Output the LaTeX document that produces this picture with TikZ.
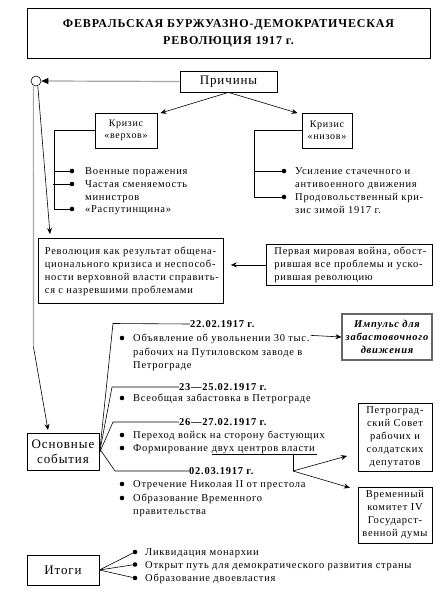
\documentclass[tikz,border=0pt]{standalone}
\usepackage{fontspec}
\setmainfont{Liberation Serif}[LetterSpace=7]
\usetikzlibrary{arrows.meta}
\newcommand{\fsb}{\fontsize{10.5}{13}\selectfont}
\newcommand{\fsl}{\fontsize{13}{15}\selectfont}
\begin{document}
\begin{tikzpicture}[x=1pt,y=-1pt,
  box/.style={draw,line width=0.8pt,inner sep=0pt,align=center},
  txt/.style={anchor=base west,inner sep=0pt,font=\fsb},
  dat/.style={anchor=west,inner sep=0pt,font=\fsb\bfseries},
  dot/.style={circle,fill,inner sep=0pt,minimum size=4.6pt},
  arr/.style={-{Stealth[length=6pt,width=5pt]}},
  ln/.style={line width=0.6pt},
  gln/.style={line width=1.2pt,gray!70},
]
\useasboundingbox (0,0) rectangle (444,594);

% title
\node[box,minimum width=403pt,minimum height=50pt,font=\fontsize{12}{17}\selectfont\bfseries] (title) at (228.5,33)
  {ФЕВРАЛЬСКАЯ БУРЖУАЗНО-ДЕМОКРАТИЧЕСКАЯ\\РЕВОЛЮЦИЯ 1917 г.};

% causes
\node[circle,draw,line width=0.6pt,minimum size=10pt,inner sep=0pt] (circ) at (36,81) {};
\node[box,minimum width=97pt,minimum height=21pt,font=\fsl] (prich) at (228.5,81.5) {Причины};
\draw[gln] (prich.west) -- ([xshift=6pt]circ.east);
\fill (circ.east) -- ++(7,-3) -- ++(0,6) -- cycle;

\node[box,minimum width=62pt,minimum height=35pt,font=\fontsize{10}{12}\selectfont] (verx) at (126,130.5) {Кризис\\«верхов»};
\node[box,minimum width=50pt,minimum height=35pt,font=\fontsize{10}{12}\selectfont] (niz) at (327,130.5) {Кризис\\«низов»};
\draw[ln,arr] (prich.south) -- ([xshift=3pt,yshift=-0.5pt]verx.north east);
\draw[ln,arr] (prich.south) -- ([xshift=-4pt,yshift=-0.5pt]niz.north west);

% verx list
\node[dot] (vb1) at (72,171) {};
\node[dot] (vb2) at (72,184) {};
\node[dot] (vb3) at (72,209) {};
\node[txt] (vt1) at (85,174.5) {Военные поражения};
\node[txt] (vt2) at (85,187.5) {Частая сменяемость};
\node[txt] (vt2b) at (85,200.5) {министров};
\node[txt] (vt3) at (85,212.5) {«Распутинщина»};
\coordinate (vc) at (54,130.5);
\draw[ln] (verx.west) -- (vc) |- (vb3);
\draw[ln] (vc |- vb1) -- (vb1);
\draw[ln] ([xshift=-1pt]vc |- vb2) -- (vb2);

% niz list
\node[dot] (nb1) at (284,171) {};
\node[dot] (nb2) at (284,197) {};
\node[txt] (nt1) at (295,174.5) {Усиление стачечного и};
\node[txt] (nt1b) at (295,187.5) {антивоенного движения};
\node[txt] (nt2) at (295,200.5) {Продовольственный кри-};
\node[txt] (nt2b) at (295,213.5) {зис зимой 1917 г.};
\coordinate (nc) at (254,130.5);
\draw[ln] (niz.west) -- (nc) |- (nb2);
\draw[ln] (nc |- nb1) -- (nb1);

% revolution
\node[box,minimum width=185pt,minimum height=65pt,align=left,font=\fsb,anchor=north west] (rev) at (38,238)
  {\hspace{2pt}Революция как результат общена-\\\hspace{2pt}ционального кризиса и неспособ-\\\hspace{2pt}ности верховной власти справить-\\\hspace{2pt}ся с назревшими проблемами};
\node[box,minimum width=166pt,minimum height=41pt,align=left,font=\fsb,anchor=north west] (war) at (266,244)
  {\hspace{2pt}Первая мировая война, обост-\\\hspace{2pt}рившая все проблемы и уско-\\\hspace{2pt}рившая революцию};
\draw[ln,arr,shorten >=7pt] (war.west) -- (war.west -| rev.east);
\coordinate (revtip) at (50,234);
\draw[ln,arr] (circ.290) -- (revtip);

% events
\node[box,minimum width=72pt,minimum height=37pt,font=\fsl] (ev) at (63,451.5) {Основные\\события};
\coordinate (bend) at (33.5,347);
\coordinate (evtip) at (48,430);
\draw[gln] (circ.240) -- (bend);
\draw[ln,arr] (bend) -- (evtip);

\coordinate (f1) at (113,323.5);
\coordinate (f2) at (112,387);
\coordinate (f3) at (113,422);
\coordinate (f4) at (115,471);
\node[dat] (d1) at (190,324) {22.02.1917 г.};
\node[dat] (d2) at (179,387) {23—25.02.1917 г.};
\node[dat] (d3) at (179,422) {26—27.02.1917 г.};
\node[dat] (d4) at (189,471) {02.03.1917 г.};
\draw[ln] ([yshift=-3pt]ev.east) -- (f1) -- (d1.west);
\draw[ln] ([yshift=-2pt]ev.east) -- (f2) -- (d2.west);
\draw[ln] ([yshift=-1.5pt]ev.east) -- (f3) -- (d3.west);
\draw[ln] ([yshift=3pt]ev.east) -- (f4) -- (d4.west);

\node[dot] (eb1) at (122,338) {};
\node[txt] (et1) at (133,341.5) {Объявление об увольнении 30 тыс.};
\node[txt] (et1b) at (133,355.5) {рабочих на Путиловском заводе в};
\node[txt] (et1c) at (133,368.5) {Петрограде};
\node[dot] (eb2) at (122,398) {};
\node[txt] (et2) at (133,401.5) {Всеобщая забастовка в Петрограде};
\node[dot] (eb3) at (122,435) {};
\node[txt] (et3) at (133,438.5) {Переход войск на сторону бастующих};
\node[dot] (eb4) at (122,448) {};
\node[txt] (et4a) at (133,451.5) {Формирование};
\node[txt] (et4b) at ([xshift=3.3pt]et4a.base east) {двух центров власти};
\node[dot] (eb5) at (122,484) {};
\node[txt] (et5) at (133,487.5) {Отречение Николая II от престола};
\node[dot] (eb6) at (122,498) {};
\node[txt] (et6) at (133,501.5) {Образование Временного};
\node[txt] (et6b) at (133,514) {правительства};

\node[box,draw=gray!80!black,line width=1.1pt,minimum width=90pt,minimum height=46pt,font=\fontsize{10.5}{13}\selectfont\bfseries\itshape] (imp) at (387,337) {Импульс для\\забастовочного\\движения};
\draw[ln,arr] (et1.east) ++(1,-3.5) -- (imp.west);

\coordinate (ul1) at (212,454);
\coordinate (ul2) at (317,454);
\draw[ln] (ul1) -- (ul2);
\coordinate (split) at (293,471);
\draw[ln] (split |- ul1) -- (split);

\node[box,minimum width=74pt,minimum height=68pt,font=\fsb] (pet) at (395,437) {Петроград-\\ский Совет\\рабочих и\\солдатских\\депутатов};
\node[box,minimum width=74pt,minimum height=56pt,font=\fsb] (vrem) at (395,515) {Временный\\комитет IV\\Государст-\\венной думы};
\draw[ln,arr,shorten >=11pt] (split) -- (pet.west |- 0,453);
\draw[ln,arr,shorten >=8pt] (split) -- (vrem.west |- 0,490);

% results
\node[box,minimum width=72pt,minimum height=30pt,font=\fsl] (itog) at (63,570) {Итоги};
\node[dot] (rb1) at (135,552) {};
\node[dot] (rb2) at (135,564.5) {};
\node[dot] (rb3) at (135,578) {};
\node[txt] (rt1) at (145,555.5) {Ликвидация монархии};
\node[txt] (rt2) at (145,568) {Открыт путь для демократического развития страны};
\node[txt] (rt3) at (145,581.5) {Образование двоевластия};
\draw[ln] (itog.east) -- (rb1);
\draw[ln] (itog.east) -- (rb2);
\draw[ln] (itog.east) -- (rb3);
\end{tikzpicture}
\end{document}
